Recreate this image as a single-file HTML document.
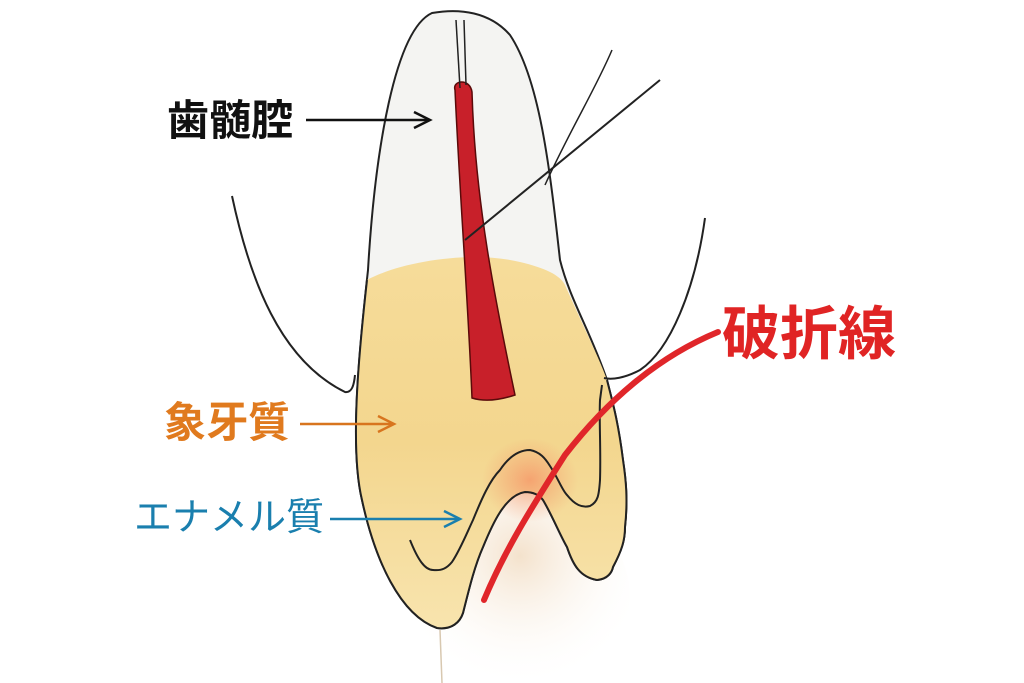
<!DOCTYPE html>
<html><head><meta charset="utf-8"><style>
html,body{margin:0;padding:0;background:#fff;}
.l{position:absolute;font-family:"Liberation Sans","Noto Sans CJK JP",sans-serif;font-weight:bold;white-space:nowrap;line-height:1;}
</style></head><body>
<div style="position:relative;width:1024px;height:683px;overflow:hidden;background:#fff;">
<svg width="1024" height="683" viewBox="0 0 1024 683" style="position:absolute;left:0;top:0">
<defs>
<linearGradient id="yel" x1="0" y1="0" x2="0" y2="1">
<stop offset="0" stop-color="#f6dc9a"/><stop offset="0.5" stop-color="#f3d68e"/><stop offset="1" stop-color="#f8e4ae"/>
</linearGradient>
<radialGradient id="pink" cx="0.5" cy="0.5" r="0.5">
<stop offset="0" stop-color="#f59a6a" stop-opacity="0.85"/><stop offset="1" stop-color="#f5a070" stop-opacity="0"/>
</radialGradient>
<radialGradient id="bone" cx="0.5" cy="0.3" r="0.6">
<stop offset="0" stop-color="#f4e2cc"/><stop offset="1" stop-color="#fff" stop-opacity="0"/>
</radialGradient>
</defs>
<!-- bone -->
<ellipse cx="520" cy="600" rx="110" ry="110" fill="url(#bone)"/>
<line x1="440" y1="630" x2="442" y2="683" stroke="#d8c8b0" stroke-width="1.5"/>
<!-- tooth white -->
<path d="M432,13 C395,30 375,150 368,270 C358,360 350,450 362,500 C375,560 400,615 437,628 C452,630 460,622 463,613 C470,585 475,565 483,547 C492,525 505,495 525,492 C535,492 540,496 543,500 C552,515 560,535 567,547 C573,565 580,577 597,580 C608,579 612,572 613,567 C622,550 625,540 625,527 C628,500 626,480 623,460 C618,420 612,400 607,380 C590,330 570,300 560,260 C550,170 540,80 510,35 C490,12 460,8 432,13 Z" fill="#f4f4f2" stroke="#222" stroke-width="2"/>
<!-- dentin yellow -->
<path d="M367,280 C400,262 470,250 520,262 C545,268 560,275 565,285 C585,330 600,360 607,380 C612,400 618,420 623,460 C626,480 628,500 625,527 C625,540 622,550 613,567 C612,572 608,579 597,580 C580,577 573,565 567,547 C560,535 552,515 543,500 C540,496 535,492 525,492 C505,495 492,525 483,547 C475,565 470,585 463,613 C460,622 452,630 437,628 C400,615 375,560 362,500 C350,450 358,360 367,280 Z" fill="url(#yel)"/>
<ellipse cx="530" cy="480" rx="48" ry="42" fill="url(#pink)"/>
<!-- redraw outline over fill -->
<path d="M367,280 C358,360 350,450 362,500 C375,560 400,615 437,628 C452,630 460,622 463,613 C470,585 475,565 483,547 C492,525 505,495 525,492 C535,492 540,496 543,500 C552,515 560,535 567,547 C573,565 580,577 597,580 C608,579 612,572 613,567 C622,550 625,540 625,527 C628,500 626,480 623,460 C618,420 612,400 607,380" fill="none" stroke="#222" stroke-width="2"/>
<!-- inner enamel line -->
<path d="M410,540 C418,560 425,570 433,570 C442,571 447,568 452,562 C460,550 466,535 473,520 C482,498 490,480 500,470 C510,455 520,450 530,450 C540,452 545,458 550,466 C558,478 562,490 567,495 C575,505 582,508 590,506 C598,502 599,495 600,480 C601,450 599,420 600,400 L602,385" fill="none" stroke="#222" stroke-width="2"/>
<!-- pulp -->
<path d="M455,90 C452,80 470,78 472,92 C475,200 495,300 515,395 C500,400 485,402 472,398 C468,300 460,200 455,90 Z" fill="#c8202a" stroke="#5a0a0a" stroke-width="1.5"/>
<line x1="456" y1="20" x2="460" y2="88" stroke="#222" stroke-width="1.5"/>
<line x1="464" y1="20" x2="466" y2="85" stroke="#222" stroke-width="1.5"/>
<!-- gum lines -->
<path d="M232,196 C250,280 280,360 345,392 C352,393 354,385 355,375" fill="none" stroke="#222" stroke-width="2"/>
<path d="M705,218 C695,290 670,350 640,370 C625,378 612,380 604,378" fill="none" stroke="#222" stroke-width="2"/>
<!-- diagonal lines -->
<line x1="465" y1="240" x2="660" y2="80" stroke="#222" stroke-width="2"/>
<path d="M545,185 C570,130 595,90 612,50" fill="none" stroke="#222" stroke-width="1.5"/>
<!-- fracture -->
<path d="M718,332 C650,360 600,410 565,455 C530,510 505,550 484,600" fill="none" stroke="#e0262a" stroke-width="6" stroke-linecap="round"/>
<!-- arrows -->
<g stroke="#111" stroke-width="2.5" fill="none"><line x1="306" y1="120" x2="428" y2="120"/><path d="M414,112 L430,120 L414,128"/></g>
<g stroke="#d8751e" stroke-width="2.5" fill="none"><line x1="300" y1="424" x2="392" y2="424"/><path d="M378,416 L394,424 L378,432"/></g>
<g stroke="#1a7fae" stroke-width="2.5" fill="none"><line x1="330" y1="519" x2="458" y2="519"/><path d="M444,511 L460,519 L444,527"/></g>
</svg>
<div class="l" style="left:167px;top:100px;font-size:42px;color:#111;">歯髄腔</div>
<div class="l" style="left:164px;top:402px;font-size:42px;color:#e07a1e;">象牙質</div>
<div class="l" style="left:134px;top:499px;font-size:38px;color:#1a7fae;font-weight:normal;">エナメル質</div>
<div class="l" style="left:722px;top:306px;font-size:58px;color:#e02424;">破折線</div>
</div>
</body></html>
